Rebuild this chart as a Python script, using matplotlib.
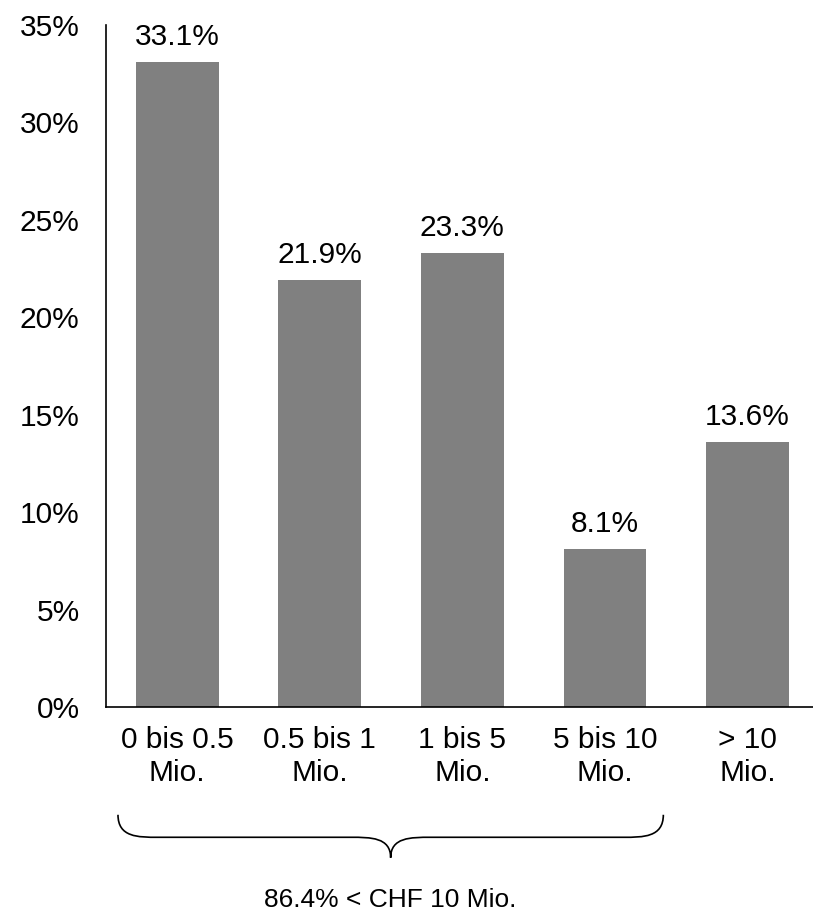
import matplotlib
matplotlib.use("Agg")
import matplotlib.pyplot as plt
from matplotlib.path import Path
from matplotlib.patches import PathPatch
from matplotlib.transforms import blended_transform_factory

# Share of companies by revenue bracket (CHF)
categories = ["0 bis 0.5\nMio.", "0.5 bis 1\nMio.", "1 bis 5\nMio.", "5 bis 10\nMio.", "> 10\nMio."]
shares = [33.1, 21.9, 23.3, 8.1, 13.6]
y_ticks = [0, 5, 10, 15, 20, 25, 30, 35]
brace_label = "86.4% < CHF 10 Mio."

plt.rcParams['font.family'] = ['Liberation Sans', 'DejaVu Sans']

fig = plt.figure(figsize=(8.13, 9.11), dpi=100)
ax = fig.add_axes([0.1304, 0.2239, 0.8696, 0.7486])

x = list(range(len(categories)))
bars = ax.bar(x, shares, width=0.58, color="#808080")

for rect, v in zip(bars, shares):
    ax.annotate(f"{v:.1f}%", (rect.get_x() + rect.get_width() / 2, v),
                xytext=(0, 8), textcoords="offset points",
                ha="center", va="bottom", fontsize=21.5)

ax.set_xlim(-0.5, 4.46)
ax.set_ylim(0, 35)
ax.set_yticks(y_ticks)
ax.set_yticklabels([f"{t}%" for t in y_ticks])
ax.set_xticks(x)
ax.set_xticklabels(categories, linespacing=1.2)
ax.tick_params(axis="y", length=0, pad=19, labelsize=21.5)
ax.tick_params(axis="x", length=0, pad=14, labelsize=21.5)

for side in ["top", "right"]:
    ax.spines[side].set_visible(False)
ax.spines["left"].set_linewidth(1.2)
ax.spines["bottom"].set_linewidth(1.2)

# curly brace under the first four brackets
trans = blended_transform_factory(ax.transData, ax.transAxes)
x0, x1 = -0.416, 3.41
xc = (x0 + x1) / 2
y_top, y_mid, y_tip = -0.158, -0.191, -0.221
d = 0.14
verts = [
    (x0, y_top),
    (x0, y_mid), (x0 + d, y_mid), (x0 + 2 * d, y_mid),
    (xc - 2 * d, y_mid),
    (xc - d, y_mid), (xc, y_mid), (xc, y_tip),
    (xc, y_mid), (xc + d, y_mid), (xc + 2 * d, y_mid),
    (x1 - 2 * d, y_mid),
    (x1 - d, y_mid), (x1, y_mid), (x1, y_top),
]
codes = [Path.MOVETO,
         Path.CURVE4, Path.CURVE4, Path.CURVE4,
         Path.LINETO,
         Path.CURVE4, Path.CURVE4, Path.CURVE4,
         Path.CURVE4, Path.CURVE4, Path.CURVE4,
         Path.LINETO,
         Path.CURVE4, Path.CURVE4, Path.CURVE4]
brace = PathPatch(Path(verts, codes), transform=trans, fill=False,
                  edgecolor="black", linewidth=1.2, clip_on=False)
ax.add_patch(brace)

ax.text(xc, -0.283, brace_label, transform=trans, ha="center", va="center",
        fontsize=19)

fig.savefig("out.png", dpi=100)
